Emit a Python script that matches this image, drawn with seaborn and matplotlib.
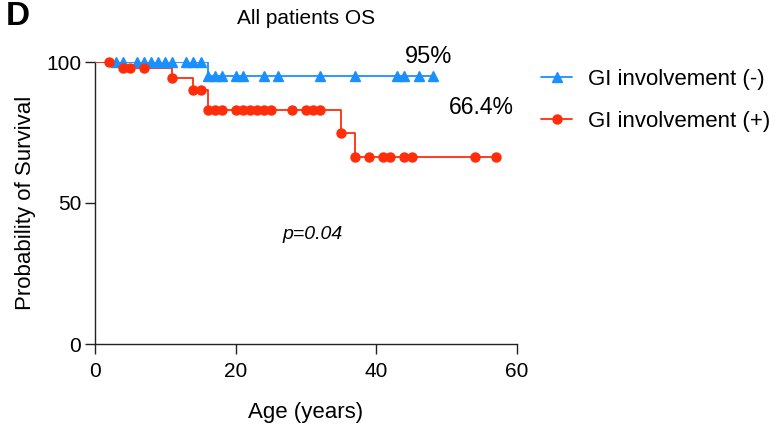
import matplotlib
matplotlib.use("Agg")
import matplotlib.pyplot as plt
import seaborn as sns
import pandas as pd
from matplotlib.lines import Line2D

# ---- data ----
neg_step_t = [0, 16, 48]
neg_step_s = [100, 95, 95]
neg_cens_t = [3, 4, 6, 7, 8, 9, 10, 11, 13, 14, 15,
              16, 17, 18, 20, 21, 24, 26, 32, 37, 43, 44, 46, 48]
neg_cens_s = [100] * 11 + [95] * 13

pos_step_t = [0, 4, 11, 14, 16, 35, 37, 57]
pos_step_s = [100, 97.9, 94.2, 90.1, 83.0, 74.7, 66.4, 66.4]
pos_cens_t = [2, 4, 5, 7, 11, 14, 15,
              16, 17, 18, 20, 21, 22, 23, 24, 25, 28, 30, 31, 32,
              35, 37, 39, 41, 42, 44, 45, 54, 57]
pos_cens_s = [100, 97.9, 97.9, 97.9, 94.2, 90.1, 90.1] + [83.0] * 13 + [74.7] + [66.4] * 8

labels = ["GI involvement (-)", "GI involvement (+)"]
x_ticks = [0, 20, 40, 60]
y_ticks = [0, 50, 100]

BLUE = "#1A90FF"
RED = "#FF2D0A"

sns.set_style("ticks")
plt.rcParams["font.family"] = ["Liberation Sans", "DejaVu Sans"]
plt.rcParams["text.color"] = "black"
plt.rcParams["axes.labelcolor"] = "black"
plt.rcParams["xtick.color"] = "black"
plt.rcParams["ytick.color"] = "black"
plt.rcParams["axes.edgecolor"] = "black"

fig = plt.figure(figsize=(7.81, 4.30), dpi=100)
ax = fig.add_axes([95 / 781, 1 - 344 / 430, (517 - 95) / 781, (344 - 62) / 430])

neg_df = pd.DataFrame({"t": neg_step_t, "s": neg_step_s})
pos_df = pd.DataFrame({"t": pos_step_t, "s": pos_step_s})

sns.lineplot(data=neg_df, x="t", y="s", ax=ax, color=BLUE, lw=1.3,
             drawstyle="steps-post", estimator=None, sort=False, zorder=3)
sns.lineplot(data=pos_df, x="t", y="s", ax=ax, color=RED, lw=1.3,
             drawstyle="steps-post", estimator=None, sort=False, zorder=4)
ax.plot(neg_cens_t, neg_cens_s, ls="none", marker="^", ms=7, color=BLUE,
        mec=BLUE, zorder=5, clip_on=False)
ax.plot(pos_cens_t, pos_cens_s, ls="none", marker="o", ms=6.5, color=RED,
        mec=RED, zorder=6, clip_on=False)

ax.set_xlim(0, 60)
ax.set_ylim(0, 100)
ax.set_xticks(x_ticks)
ax.set_yticks(y_ticks)
ax.tick_params(axis="both", length=7, width=1.0, labelsize=15, color="#222222",
               labelcolor="black")
ax.tick_params(axis="x", pad=6)
ax.tick_params(axis="y", pad=3)
for sp in ["top", "right"]:
    ax.spines[sp].set_visible(False)
for sp in ["left", "bottom"]:
    ax.spines[sp].set_linewidth(1.0)
    ax.spines[sp].set_color("#222222")

ax.set_xlabel("Age (years)", fontsize=16, labelpad=15)
ax.set_ylabel("Probability of Survival", fontsize=16, labelpad=7)
ax.set_title("All patients OS", fontsize=15, pad=27)

ax.text(47.4, 101.8, "95%", fontsize=17, ha="center", va="center")
ax.text(55.0, 84.0, "66.4%", fontsize=16.5, ha="center", va="center")
ax.text(31.0, 39.0, "p=0.04", fontsize=14, style="italic", ha="center", va="center")

fig.text(0.008, 0.998, "D", fontsize=24, fontweight="bold", va="top")

handles = [Line2D([], [], color=BLUE, marker="^", ms=7, lw=1.3),
           Line2D([], [], color=RED, marker="o", ms=6.5, lw=1.3)]
fig.legend(handles, labels, loc="upper left", bbox_to_anchor=(541 / 781, 1 - 69 / 430),
           frameon=False, fontsize=16, handlelength=1.4, handletextpad=0.7,
           labelspacing=0.95, borderaxespad=0, borderpad=0)

fig.savefig("out.png", dpi=100)
